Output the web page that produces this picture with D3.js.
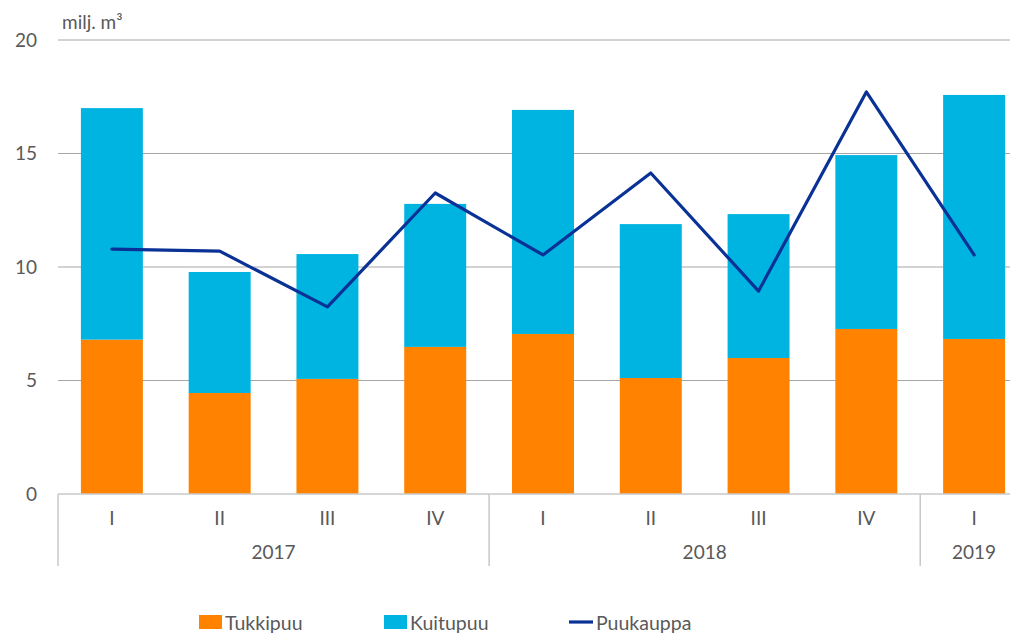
<!DOCTYPE html>
<html>
<head>
<meta charset="utf-8">
<script src="https://cdn.jsdelivr.net/npm/d3@7"></script>
<style>
  body { margin: 0; background: #fff; }
  text { font-family: Lato, "Open Sans", sans-serif; fill: #595959; }
</style>
</head>
<body>
<div id="vis"></div>
<script>
const quarters = ["I", "II", "III", "IV", "I", "II", "III", "IV", "I"];
const years = [
    {label: "2017", from: 0, to: 4},
    {label: "2018", from: 4, to: 8},
    {label: "2019", from: 8, to: 9}
];
const tukkipuu = [6.8, 4.45, 5.07, 6.48, 7.05, 5.11, 5.99, 7.27, 6.83];
const kuitupuu = [10.2, 5.33, 5.5, 6.3, 9.87, 6.78, 6.34, 7.66, 10.75];
const puukauppa = [10.79, 10.7, 8.24, 13.26, 10.53, 14.14, 8.94, 17.71, 10.53];
const yTicks = [0, 5, 10, 15, 20];

const width = 1010;
const height = 635;
const plotLeft = 58, plotRight = 1028, plotTop = 40, plotBottom = 494;

const colors = {tukki: "#ff8200", kuitu: "#00b4e1", line: "#0a3296"};

var svg = d3.select("#vis")
    .append("svg")
    .attr("width", width)
    .attr("height", height);

var x = d3.scaleBand()
    .domain(d3.range(quarters.length))
    .range([plotLeft, plotRight])
    .paddingInner(0.425)
    .paddingOuter(0.2125);

// full band step for separators
var step = (plotRight - plotLeft) / quarters.length;

var y = d3.scaleLinear()
    .domain([0, 20])
    .range([plotBottom, plotTop]);

// gridlines
svg.append("g")
    .selectAll("line")
    .data(yTicks.filter(d => d > 0))
    .enter().append("line")
    .attr("x1", plotLeft)
    .attr("x2", plotRight)
    .attr("y1", d => y(d))
    .attr("y2", d => y(d))
    .attr("stroke", "#a6a6a6")
    .attr("stroke-width", 1);

// y tick labels
svg.append("g")
    .selectAll("text")
    .data(yTicks)
    .enter().append("text")
    .attr("x", 37)
    .attr("y", d => y(d))
    .attr("dy", "0.35em")
    .attr("text-anchor", "end")
    .attr("font-size", 19)
    .text(d => d);

svg.append("text")
    .attr("x", 62)
    .attr("y", 29)
    .attr("font-size", 19)
    .text("milj. m³");

var stacked = quarters.map((q, i) => ({i: i, t: tukkipuu[i], k: kuitupuu[i]}));

// bars
var bars = svg.append("g");
bars.selectAll("rect.tukki")
    .data(stacked)
    .enter().append("rect")
    .attr("class", "tukki")
    .attr("x", d => x(d.i))
    .attr("width", x.bandwidth())
    .attr("y", d => y(d.t))
    .attr("height", d => y(0) - y(d.t))
    .attr("fill", colors.tukki);

bars.selectAll("rect.kuitu")
    .data(stacked)
    .enter().append("rect")
    .attr("class", "kuitu")
    .attr("x", d => x(d.i))
    .attr("width", x.bandwidth())
    .attr("y", d => y(d.t + d.k))
    .attr("height", d => y(d.t) - y(d.t + d.k))
    .attr("fill", colors.kuitu);

// x axis
svg.append("line")
    .attr("x1", plotLeft).attr("x2", plotRight)
    .attr("y1", plotBottom).attr("y2", plotBottom)
    .attr("stroke", "#c8c8c8")
    .attr("stroke-width", 1.5);

svg.append("g")
    .selectAll("line")
    .data(years)
    .enter().append("line")
    .attr("x1", d => plotLeft + d.from * step)
    .attr("x2", d => plotLeft + d.from * step)
    .attr("y1", plotBottom)
    .attr("y2", 566)
    .attr("stroke", "#c8c8c8")
    .attr("stroke-width", 1.5);

svg.append("g")
    .selectAll("text")
    .data(quarters)
    .enter().append("text")
    .attr("x", (d, i) => x(i) + x.bandwidth() / 2)
    .attr("y", 525)
    .attr("text-anchor", "middle")
    .attr("font-size", 19)
    .text(d => d);

svg.append("g")
    .selectAll("text")
    .data(years)
    .enter().append("text")
    .attr("x", d => d.to - d.from > 1 ? plotLeft + (d.from + d.to) / 2 * step : x(d.from) + x.bandwidth() / 2)
    .attr("y", 559)
    .attr("text-anchor", "middle")
    .attr("font-size", 19)
    .text(d => d.label);

// line
var line = d3.line()
    .x((d, i) => x(i) + x.bandwidth() / 2)
    .y(d => y(d));

svg.append("path")
    .datum(puukauppa)
    .attr("d", line)
    .attr("fill", "none")
    .attr("stroke", colors.line)
    .attr("stroke-width", 3.2)
    .attr("stroke-linejoin", "round")
    .attr("stroke-linecap", "round");

// legend
var legend = svg.append("g");
legend.append("rect").attr("x", 199).attr("y", 615).attr("width", 23).attr("height", 14).attr("fill", colors.tukki);
legend.append("text").attr("x", 225).attr("y", 630).attr("font-size", 19.5).text("Tukkipuu");
legend.append("rect").attr("x", 384).attr("y", 615).attr("width", 23).attr("height", 14).attr("fill", colors.kuitu);
legend.append("text").attr("x", 410).attr("y", 630).attr("font-size", 19.5).text("Kuitupuu");
legend.append("line").attr("x1", 569).attr("x2", 593).attr("y1", 622).attr("y2", 622)
    .attr("stroke", colors.line).attr("stroke-width", 3.2);
legend.append("text").attr("x", 596).attr("y", 630).attr("font-size", 19.5).text("Puukauppa");
</script>
</body>
</html>
